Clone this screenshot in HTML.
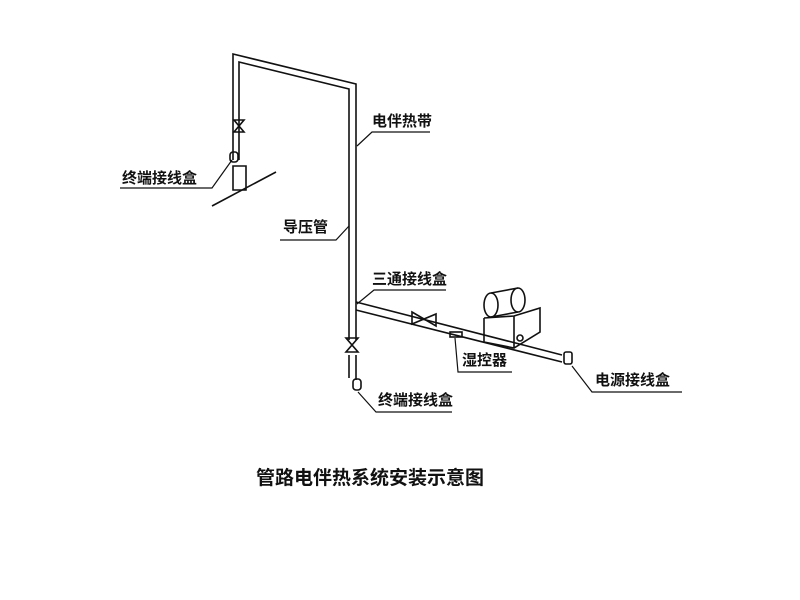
<!DOCTYPE html><html><head><meta charset="utf-8"><style>body{margin:0;background:#fff}svg{display:block}text{font-family:"Liberation Sans","Noto Sans CJK SC",sans-serif;font-weight:bold;fill:#111}</style></head><body>
<svg width="800" height="600" viewBox="0 0 800 600" xmlns="http://www.w3.org/2000/svg">
<g stroke="#111" fill="none" stroke-width="1.6">
<path d="M233 160 V54 L356 84 V340"/>
<path d="M239 160 V62 L349 89 V340"/>
<path d="M349 355 V378 M356 355 V380"/>
<path d="M234 120 L244 120 L234 132 L244 132 Z"/>
<rect x="230" y="152" width="8" height="10" rx="3"/>
<path d="M233 166 H246 V190 H233 Z"/>
<path d="M212 206 L276 172"/>
<path d="M346 338 L358 338 L346 352 L358 352 Z"/>
<rect x="353" y="379" width="8" height="11" rx="3"/>
<path d="M356 302 L562 355"/>
<path d="M356 310 L562 362"/>
<path d="M412 312 L436 326 L436 314 L412 324 Z"/>
<rect x="450" y="332" width="12" height="5"/>
<rect x="564" y="352" width="8" height="12" rx="2"/>
<ellipse cx="491" cy="305" rx="7" ry="12"/>
<path d="M491 293 L518 288 M491 317 L518 312"/>
<ellipse cx="518" cy="300" rx="7" ry="12"/>
<path d="M484 318 L484 342 L514 348 L540 332 L540 308 L514 316 L484 318 M514 316 V348"/>
<circle cx="520" cy="338" r="3"/>
<path d="M232 160 L212 188 H120" stroke-width="1.2"/>
<path d="M357 146 L372 132 H430" stroke-width="1.2"/>
<path d="M349 226 L336 240 H280" stroke-width="1.2"/>
<path d="M357 304 L374 290 H446" stroke-width="1.2"/>
<path d="M455 338 L458 372 H512" stroke-width="1.2"/>
<path d="M358 392 L376 412 H452" stroke-width="1.2"/>
<path d="M572 366 L592 392 H682" stroke-width="1.2"/>
</g>
<g font-size="15">
<text x="122" y="183">终端接线盒</text>
<text x="372" y="126">电伴热带</text>
<text x="283" y="232">导压管</text>
<text x="372" y="284">三通接线盒</text>
<text x="462" y="365">湿控器</text>
<text x="378" y="405">终端接线盒</text>
<text x="595" y="385">电源接线盒</text>
<text x="256" y="484" font-size="19">管路电伴热系统安装示意图</text>
</g>
</svg></body></html>
